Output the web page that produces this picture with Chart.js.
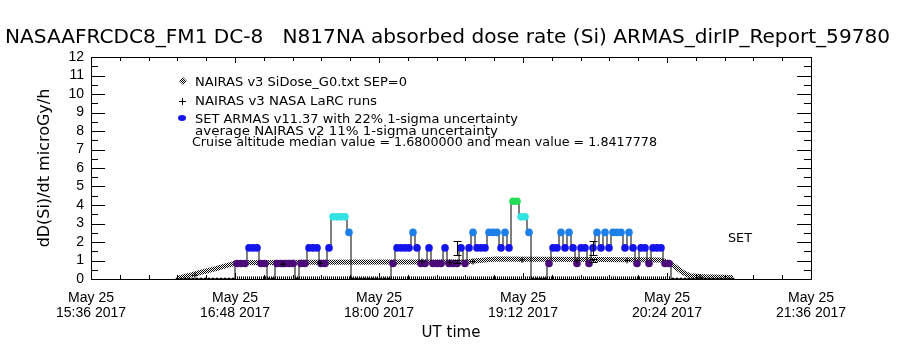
<!DOCTYPE html>
<html>
<head>
<meta charset="utf-8">
<title>ARMAS absorbed dose rate</title>
<script src="https://cdn.jsdelivr.net/npm/chart.js@4.4.1/dist/chart.umd.min.js"></script>
<style>
  html, body { margin: 0; padding: 0; background: #fff; }
</style>
</head>
<body>
<canvas id="dose-chart" width="900" height="350"></canvas>
<script>
// x values are minutes after 15:36 UT (left edge of the plot)
const AXIS_START = 15 * 60 + 36;
const AXIS_SPAN = 360;
const tickMinutes = [0, 72, 144, 216, 288, 360];
const tickDate = 'May 25';
const tickYear = '2017';

// NAIRAS v3 SiDose_G0.txt SEP=0 along the flight track
const nairasMin  = [43.5, 49.5, 54.5, 62, 68.5, 73, 104.5, 154.5, 188, 202, 224.5, 254.5, 284.5, 287, 291, 296, 299.5, 307, 321];
const nairasDose = [0.05, 0.2, 0.35, 0.55, 0.75, 0.88, 0.9, 0.92, 0.93, 1.08, 1.07, 1.05, 1.03, 0.95, 0.75, 0.35, 0.18, 0.12, 0.08];

// NAIRAS v3 NASA LaRC runs
const larcMin  = [52, 96, 114.5, 165.5, 179.5, 191, 215.5, 243, 268, 304.5];
const larcDose = [0.2, 0.8, 0.85, 0.95, 0.9, 0.94, 1.03, 1.0, 1.0, 0.1];

// SET ARMAS v11.37 records, one every 2 minutes from 16:19 UT
const armasStart = 43;
const armasStep = 2;
const armasDose = [
  0, 0, 0, 0, 0, 0, 0, 0, 0, 0,
  0, 0, 0, 0, 0, 0.84, 0.84, 0.84, 1.68, 1.68,
  1.68, 0.84, 0.84, 0, 0, 0.84, 0.84, 0.84, 0.84, 0.84,
  0, 0.84, 0.84, 1.68, 1.68, 1.68, 0.84, 0.84, 1.68, 3.36,
  3.36, 3.36, 3.36, 2.52, 0, 0, 0, 0, 0, 0,
  0, 0, 0, 0, 0.84, 1.68, 1.68, 1.68, 1.68, 2.52,
  1.68, 0.84, 0.84, 1.68, 0.84, 0.84, 0.84, 1.68, 0.84, 0.84,
  0.84, 1.68, 0.84, 1.68, 2.52, 1.68, 1.68, 1.68, 2.52, 2.52,
  2.52, 1.68, 2.52, 1.68, 4.2, 4.2, 3.36, 3.36, 2.52, 0,
  0, 0, 0, 0.84, 1.68, 1.68, 2.52, 1.68, 2.52, 1.68,
  0.84, 1.68, 1.68, 0.84, 1.68, 2.52, 1.68, 2.52, 1.68, 2.52,
  2.52, 2.52, 1.68, 2.52, 1.68, 0.84, 1.68, 1.68, 0.84, 1.68,
  1.68, 1.68, 0.84, 0.84, 0, 0, 0, 0, 0, 0,
  0, 0, 0, 0, 0, 0, 0, 0, 0, 0
];

// ARMAS record track drawn along the floor of the plot
const trackMin  = [73, 290];
const trackDose = [0.06, 0.06];

// uncertainty bars: ARMAS 22% and NAIRAS 11%
const barMin       = [183, 251];
const armasBarLo   = [1.31, 1.31];
const armasBarHi   = [2.05, 2.05];
const nairasBarLo  = [0.85, 0.9];
const nairasBarHi  = [1.05, 1.1];

const titleText = 'NASAAFRCDC8_FM1 DC-8   N817NA absorbed dose rate (Si) ARMAS_dirIP_Report_59780';
const legendLines = [
  'NAIRAS v3 SiDose_G0.txt SEP=0',
  'NAIRAS v3 NASA LaRC runs',
  'SET ARMAS v11.37 with 22% 1-sigma uncertainty',
  'average NAIRAS v2 11% 1-sigma uncertainty',
  'Cruise altitude median value = 1.6800000 and mean value = 1.8417778'
];

const FONT = '"DejaVu Sans", "Liberation Sans", sans-serif';
const TICK_FONT = '"Liberation Sans", sans-serif';

function clock(m) {
  const t = AXIS_START + m;
  const h = Math.floor(t / 60);
  const mm = String(t % 60).padStart(2, '0');
  return h + ':' + mm;
}

function doseColour(v) {
  if (v >= 4) return '#22dd55';
  if (v >= 3) return '#33e2e2';
  if (v >= 2.4) return '#1c80e8';
  if (v >= 1.6) return '#1414ee';
  if (v >= 0.8) return '#4b0b78';
  return '#000000';
}

// 1px checker used for the NAIRAS model band
function checker() {
  const c = document.createElement('canvas');
  c.width = 2; c.height = 2;
  const g = c.getContext('2d');
  g.fillStyle = '#fff'; g.fillRect(0, 0, 2, 2);
  g.fillStyle = '#000'; g.fillRect(0, 0, 1, 1); g.fillRect(1, 1, 1, 1);
  return g.createPattern(c, 'repeat');
}

// draw text squeezed/stretched to an exact width
function fitText(ctx, text, x, y, width) {
  const w = ctx.measureText(text).width;
  ctx.save();
  ctx.translate(x, y);
  ctx.scale(width / w, 1);
  ctx.fillText(text, 0, 0);
  ctx.restore();
}

const zip = (xs, ys) => xs.map((x, i) => ({ x: x, y: ys[i] }));

const armasPoints = armasDose.map((v, i) => ({ x: armasStart + i * armasStep, y: v }));

const band = checker();

// box, inward ticks, error bars and all the loose text
const decorations = {
  id: 'decorations',
  afterDatasetsDraw(chart) {
    const { ctx, chartArea: a, scales: { x, y } } = chart;
    ctx.save();
    ctx.strokeStyle = '#000';
    ctx.lineWidth = 1;
    ctx.strokeRect(a.left + 0.5, a.top + 0.5, a.right - a.left, a.bottom - a.top);

    ctx.beginPath();
    for (let k = 0; k <= 25; k++) {
      const px = Math.round(x.getPixelForValue(k * 14.4)) + 0.5;
      const len = k % 5 === 0 ? 6 : 4;
      ctx.moveTo(px, a.bottom); ctx.lineTo(px, a.bottom - len);
      ctx.moveTo(px, a.top); ctx.lineTo(px, a.top + len);
    }
    for (let k = 0; k <= 24; k++) {
      const py = Math.round(y.getPixelForValue(k / 2)) + 0.5;
      const len = k % 2 === 0 ? 14 : 7;
      ctx.moveTo(a.left, py); ctx.lineTo(a.left + len, py);
      ctx.moveTo(a.right, py); ctx.lineTo(a.right - len, py);
    }
    ctx.stroke();

    // uncertainty bars
    ctx.beginPath();
    barMin.forEach((m, i) => {
      const px = Math.round(x.getPixelForValue(m)) + 0.5;
      [[armasBarLo[i], armasBarHi[i]], [nairasBarLo[i], nairasBarHi[i]]].forEach(([lo, hi]) => {
        const y0 = Math.round(y.getPixelForValue(lo)) + 0.5;
        const y1 = Math.round(y.getPixelForValue(hi)) + 0.5;
        ctx.moveTo(px, y0); ctx.lineTo(px, y1);
        ctx.moveTo(px - 4, y0); ctx.lineTo(px + 4, y0);
        ctx.moveTo(px - 4, y1); ctx.lineTo(px + 4, y1);
      });
    });
    ctx.stroke();

    // title
    ctx.fillStyle = '#000';
    ctx.textBaseline = 'alphabetic';
    ctx.font = '19px ' + FONT;
    fitText(ctx, titleText, 5, 43, 885);

    // legend symbols
    ctx.fillStyle = band;
    ctx.beginPath();
    ctx.moveTo(183, 77); ctx.lineTo(187, 81); ctx.lineTo(183, 85); ctx.lineTo(179, 81);
    ctx.closePath(); ctx.fill();
    ctx.strokeStyle = '#000';
    ctx.beginPath();
    ctx.moveTo(182.5, 98); ctx.lineTo(182.5, 105);
    ctx.moveTo(179, 101.5); ctx.lineTo(186, 101.5);
    ctx.stroke();
    ctx.fillStyle = doseColour(1.68);
    ctx.beginPath();
    ctx.ellipse(182, 118, 4, 3, 0, 0, Math.PI * 2);
    ctx.fill();

    // legend text
    ctx.fillStyle = '#000';
    ctx.font = '12px ' + FONT;
    fitText(ctx, legendLines[0], 195, 86, 212);
    fitText(ctx, legendLines[1], 195, 105, 182);
    fitText(ctx, legendLines[2], 195, 123, 323);
    fitText(ctx, legendLines[3], 195, 135, 303);
    fitText(ctx, legendLines[4], 192, 146, 465);

    ctx.font = '13px ' + FONT;
    fitText(ctx, 'SET', 728, 242, 24);
    ctx.restore();
  }
};

const chart = new Chart(document.getElementById('dose-chart'), {
  type: 'line',
  data: {
    datasets: [
      {
        label: 'SET ARMAS',
        data: armasPoints,
        order: 1,
        stepped: 'middle',
        borderColor: '#000',
        borderWidth: 1,
        pointRadius: ctx => (ctx.raw && ctx.raw.y > 0 ? 3.8 : 1.5),
        pointBackgroundColor: ctx => doseColour(ctx.raw ? ctx.raw.y : 0),
        pointBorderWidth: 0
      },
      {
        label: 'NAIRAS v3 NASA LaRC runs',
        data: zip(larcMin, larcDose),
        order: 0,
        showLine: false,
        pointStyle: 'cross',
        pointRadius: 3,
        pointBorderColor: '#000',
        pointBorderWidth: 1
      },
      {
        label: 'record track',
        data: zip(trackMin, trackDose),
        order: 3,
        borderColor: '#000',
        borderWidth: 3,
        borderDash: [1, 1],
        pointRadius: 0
      },
      {
        label: 'NAIRAS v3 SiDose_G0.txt SEP=0',
        data: zip(nairasMin, nairasDose),
        order: 4,
        borderColor: band,
        borderWidth: 5,
        tension: 0,
        pointRadius: 0
      }
    ]
  },
  options: {
    responsive: false,
    animation: false,
    events: [],
    layout: { padding: { top: 57, right: 89, left: 0, bottom: 0 } },
    plugins: {
      legend: { display: false },
      tooltip: { enabled: false },
      title: { display: false }
    },
    scales: {
      x: {
        type: 'linear',
        min: 0,
        max: AXIS_SPAN,
        afterFit(scale) { scale.height = 71; },
        afterBuildTicks(scale) { scale.ticks = tickMinutes.map(v => ({ value: v })); },
        grid: { display: false, drawTicks: false },
        border: { display: false },
        ticks: {
          padding: 11,
          color: '#000',
          maxRotation: 0,
          autoSkip: false,
          font: { family: TICK_FONT, size: 14, lineHeight: 1.1 },
          callback: v => [tickDate, clock(v) + ' ' + tickYear]
        },
        title: {
          display: true,
          text: 'UT time',
          color: '#000',
          font: { family: FONT, size: 15 },
          padding: { top: 0, bottom: 8 }
        }
      },
      y: {
        min: 0,
        max: 12,
        afterFit(scale) { scale.width = 91; },
        grid: { display: false, drawTicks: false },
        border: { display: false },
        ticks: {
          stepSize: 1,
          autoSkip: false,
          padding: 7,
          color: '#000',
          font: { family: TICK_FONT, size: 14 }
        },
        title: {
          display: true,
          text: 'dD(Si)/dt microGy/h',
          color: '#000',
          font: { family: FONT, size: 16 },
          padding: { top: 35, bottom: 0 }
        }
      }
    }
  },
  plugins: [decorations]
});
</script>
</body>
</html>
